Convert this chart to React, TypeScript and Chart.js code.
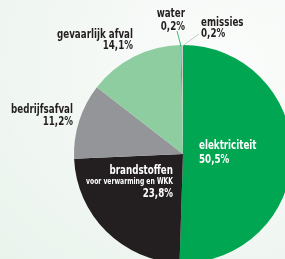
import React, { useEffect, useRef } from "react";
import { Chart, registerables } from "chart.js";

Chart.register(...registerables);

const categories = ["elektriciteit", "brandstoffen", "bedrijfsafval", "gevaarlijk afval", "water", "emissies"];
const values = [50.5, 23.8, 11.2, 14.1, 0.2, 0.2];
const valueLabels = ["50,5%", "23,8%", "11,2%", "14,1%", "0,2%", "0,2%"];
const subtitles = ["", "voor verwarming en WKK", "", "", "", ""];
const colors = ["#00a651", "#231f20", "#939598", "#8dcd9f", "#3cb878", "#c9cccb"];

const FONT = '"DejaVu Sans Condensed", "Liberation Sans Narrow", "Roboto", sans-serif';
const MAIN_SIZE = 13;
const SUB_SIZE = 8;
// condensed look of the original typeface
const MAIN_REF = { text: "gevaarlijk afval", width: 76 };
const SUB_REF = { text: "voor verwarming en WKK", width: 87 };

// label anchors relative to pie centre (px), alignment, colour, line gap
const labelAnchors = [
  { dx: 16, dy: -8, align: "left", color: "#ffffff", gap: 14 },
  { dx: -10, dy: 17, align: "right", color: "#ffffff", gap: 11.5 },
  { dx: -110, dy: -44, align: "right", color: "#231f20", gap: 11.5 },
  { dx: -50, dy: -119, align: "right", color: "#231f20", gap: 11 },
  { dx: 2, dy: -140, align: "right", color: "#231f20", gap: 13 },
  { dx: 18, dy: -131, align: "left", color: "#231f20", gap: 11 },
];
const leaderEnds = [null, null, null, null, { dx: -6, dy: -123 }, { dx: 16, dy: -120 }];

function drawScaled(ctx: any, text: string, x: number, y: number, s: number) {
  ctx.save();
  ctx.translate(x, y);
  ctx.scale(s, 1);
  ctx.fillText(text, 0, 0);
  ctx.restore();
}

const labelPlugin = {
  id: "sliceLabels",
  afterDatasetsDraw(chart: any) {
    const meta = chart.getDatasetMeta(0);
    const arc0 = meta.data[0];
    if (!arc0) return;
    const cx = arc0.x;
    const cy = arc0.y;
    const r = arc0.outerRadius;
    const ctx = chart.ctx;
    ctx.save();
    // leader lines
    meta.data.forEach((arc: any, i: number) => {
      const end = leaderEnds[i];
      if (!end) return;
      const mid = (arc.startAngle + arc.endAngle) / 2;
      const sx = cx + Math.cos(mid) * (r - 1);
      const sy = cy + Math.sin(mid) * (r - 1);
      ctx.beginPath();
      ctx.strokeStyle = colors[i];
      ctx.lineWidth = 1;
      ctx.moveTo(sx, sy);
      ctx.lineTo(cx + end.dx, cy + end.dy);
      ctx.stroke();
    });
    const mainFont = `bold ${MAIN_SIZE}px ${FONT}`;
    const subFont = `bold ${SUB_SIZE}px ${FONT}`;
    ctx.font = mainFont;
    const sMain = MAIN_REF.width / ctx.measureText(MAIN_REF.text).width;
    ctx.font = subFont;
    const sSub = SUB_REF.width / ctx.measureText(SUB_REF.text).width;
    // text
    ctx.textBaseline = "middle";
    categories.forEach((name, i) => {
      const a = labelAnchors[i];
      const x = cx + a.dx;
      let y = cy + a.dy;
      ctx.fillStyle = a.color;
      ctx.textAlign = a.align;
      ctx.font = mainFont;
      drawScaled(ctx, name, x, y, sMain);
      if (subtitles[i]) {
        y += 11;
        ctx.font = subFont;
        drawScaled(ctx, subtitles[i], x, y, sSub);
      }
      y += a.gap;
      ctx.font = mainFont;
      drawScaled(ctx, valueLabels[i], x, y, sMain);
    });
    ctx.restore();
  },
};

export default function App() {
  const ref = useRef<HTMLCanvasElement | null>(null);
  useEffect(() => {
    document.body.style.margin = "0";
    if (!ref.current) return;
    const chart = new Chart(ref.current, {
      type: "pie",
      data: {
        labels: categories,
        datasets: [
          {
            data: values,
            backgroundColor: colors,
            borderWidth: 0,
            hoverOffset: 0,
          },
        ],
      },
      options: {
        responsive: false,
        animation: false,
        devicePixelRatio: 1,
        rotation: 0,
        layout: { padding: { left: 74, top: 45, right: 8, bottom: 12 } },
        plugins: {
          legend: { display: false },
          tooltip: { enabled: false },
        },
        events: [],
      },
      plugins: [labelPlugin],
    } as any);
    return () => chart.destroy();
  }, []);
  return (
    <div
      style={{
        position: "fixed",
        left: 0,
        top: 0,
        width: 285,
        height: 259,
        overflow: "hidden",
        background: "radial-gradient(ellipse at 80% 25%, #fbfcfb 0%, #f4f8f5 45%, #e9f3ec 100%)",
      }}
    >
      <canvas ref={ref} width={300} height={275} style={{ display: "block" }} />
    </div>
  );
}
